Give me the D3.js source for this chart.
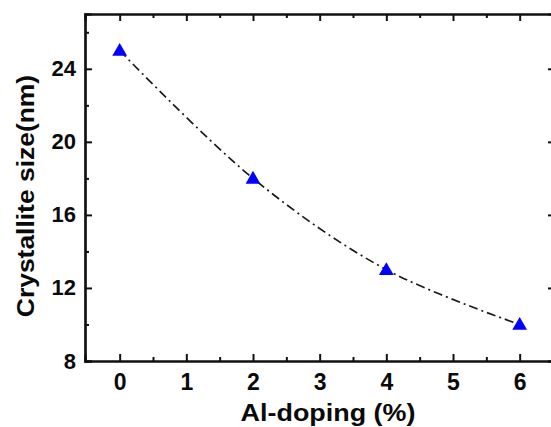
<!DOCTYPE html>
<html>
<head>
<meta charset="utf-8">
<script src="https://cdn.jsdelivr.net/npm/d3@7"></script>
<style>
  html, body { margin: 0; padding: 0; background: #fff; }
  svg { display: block; }
  text { font-family: "Liberation Sans", Arial, sans-serif; font-weight: bold; fill: #0a0a0a; }
</style>
</head>
<body>
<svg id="chart" width="551" height="427"></svg>
<script>
// Al doping level (%) and the resulting crystallite size (nm)
const doping = [0, 2, 4, 6];
const crystalliteSize = [25, 18, 13, 10];

// Axis ticks
const xMajorTicks = [0, 1, 2, 3, 4, 5, 6];
const xMinorTicks = [0.5, 1.5, 2.5, 3.5, 4.5, 5.5, 6.5];
const yMajorTicks = [8, 12, 16, 20, 24];
const yMinorTicks = [10, 14, 18, 22, 26];

const xTitle = "Al-doping (%)";
const yTitle = "Crystallite size(nm)";

const frame = { left: 85, right: 555, top: 14, bottom: 361 };

const svg = d3.select("#chart");

const x = d3.scaleLinear().domain([-0.52, 6.53]).range([frame.left, frame.right]);
const y = d3.scaleLinear().domain([8, 27]).range([frame.bottom, frame.top]);

const majorLen = 7, minorLen = 4;

// Bottom axis: labelled, ticks pointing into the plot
const gBottom = svg.append("g").attr("transform", `translate(0,${frame.bottom})`);
gBottom.call(d3.axisBottom(x).tickValues(xMajorTicks).tickSize(-majorLen).tickPadding(0).tickFormat(d3.format("d")));
gBottom.append("g").call(d3.axisBottom(x).tickValues(xMinorTicks).tickSize(-minorLen).tickFormat(""));

// Top axis: ticks only
const gTop = svg.append("g").attr("transform", `translate(0,${frame.top})`);
gTop.call(d3.axisTop(x).tickValues(xMajorTicks).tickSize(-majorLen).tickFormat(""));
gTop.append("g").call(d3.axisTop(x).tickValues(xMinorTicks).tickSize(-minorLen).tickFormat(""));

// Left axis: labelled
const gLeft = svg.append("g").attr("transform", `translate(${frame.left},0)`);
gLeft.call(d3.axisLeft(y).tickValues(yMajorTicks).tickSize(-majorLen).tickPadding(9).tickFormat(d3.format("d")));
gLeft.append("g").call(d3.axisLeft(y).tickValues(yMinorTicks).tickSize(-minorLen).tickFormat(""));

// Right axis: ticks only
const gRight = svg.append("g").attr("transform", `translate(${frame.right},0)`);
gRight.call(d3.axisRight(y).tickValues(yMajorTicks).tickSize(-majorLen).tickFormat(""));
gRight.append("g").call(d3.axisRight(y).tickValues(yMinorTicks).tickSize(-minorLen).tickFormat(""));

svg.selectAll(".domain").attr("stroke", "#111").attr("stroke-width", 2.2);
svg.selectAll(".tick line").attr("stroke", "#111").attr("stroke-width", 2);

gBottom.selectAll(".tick text")
  .attr("font-size", 23).attr("font-weight", "bold")
  .attr("font-family", "Liberation Sans, Arial, sans-serif")
  .attr("fill", "#0a0a0a").attr("dy", null).attr("y", 29);
gLeft.selectAll(".tick text")
  .attr("font-size", 22).attr("font-weight", "bold")
  .attr("font-family", "Liberation Sans, Arial, sans-serif")
  .attr("fill", "#0a0a0a");

// Axis titles
svg.append("text")
  .attr("transform", `translate(328,421) scale(1.17,1)`)
  .attr("text-anchor", "middle")
  .attr("font-size", 23)
  .text(xTitle);

svg.append("text")
  .attr("transform", `translate(34,196) rotate(-90) scale(1.15,1)`)
  .attr("text-anchor", "middle")
  .attr("font-size", 23)
  .text(yTitle);

// Dash-dot connecting curve
const pts = doping.map((d, i) => [d, crystalliteSize[i]]);
const line = d3.line().x(d => x(d[0])).y(d => y(d[1])).curve(d3.curveCatmullRom.alpha(0.5));
svg.append("path")
  .attr("d", line(pts))
  .attr("fill", "none")
  .attr("stroke", "#1a1a1a")
  .attr("stroke-width", 1.7)
  .attr("stroke-dasharray", "9,4,2,4");

// Triangle markers
svg.selectAll(".pt")
  .data(pts)
  .join("path")
  .attr("class", "pt")
  .attr("transform", d => `translate(${x(d[0])},${y(d[1]) + 1})`)
  .attr("d", d3.symbol(d3.symbolTriangle, 95))
  .attr("fill", "#0000ff");
</script>
</body>
</html>
